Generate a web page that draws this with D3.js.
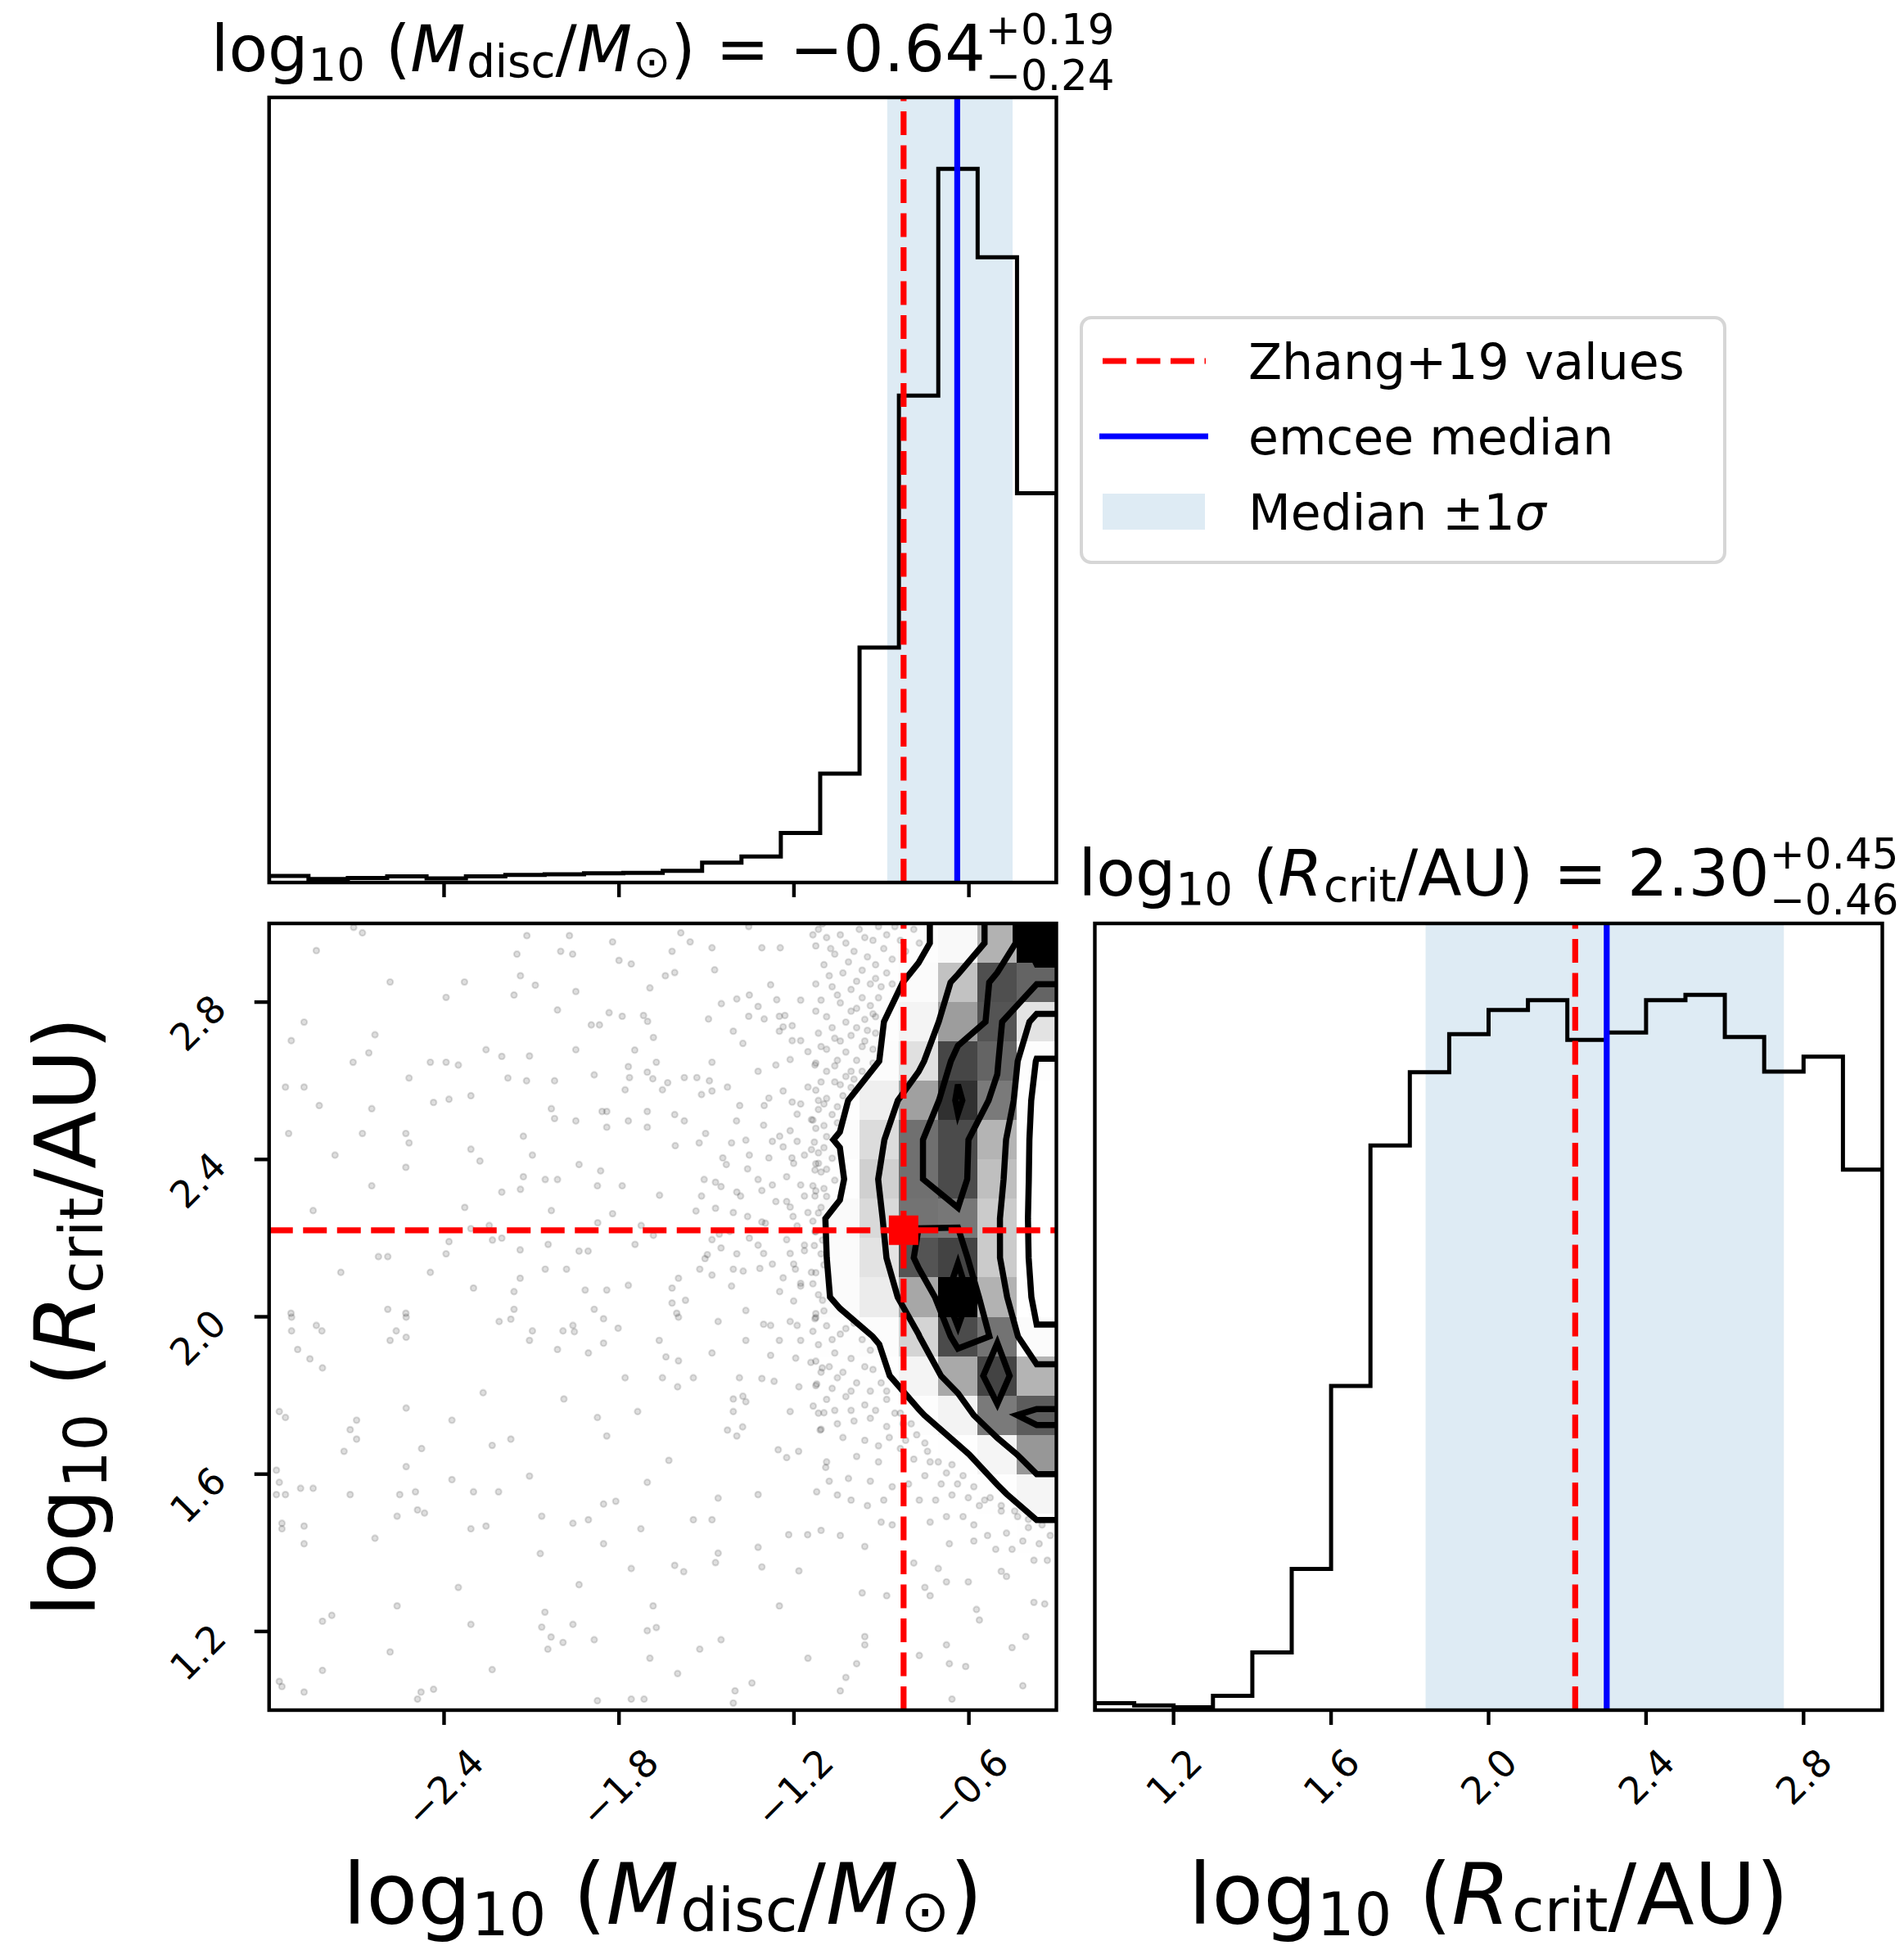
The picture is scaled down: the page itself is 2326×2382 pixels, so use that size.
<!DOCTYPE html>
<html><head><meta charset="utf-8">
<script src="https://cdn.jsdelivr.net/npm/d3@7"></script>
<style>
body{margin:0;background:#fff}
text{font-family:"DejaVu Sans",sans-serif;white-space:pre;fill:#000}
</style></head><body>
<svg id="c" width="2326" height="2382"></svg>
<script>
// ---------------- DATA ----------------
const mDomain = [-3.0, -0.3];          // log10(Mdisc/Msun) axis range
const rDomain = [1.0, 3.0];            // log10(Rcrit/AU) axis range
const mCounts = [13,7,9,12,8,12,15,16,18,19,23,39,51,97,213,460,953,1397,1224,762];
const rCounts = [12,8,5,25,100,245,562,979,1106,1172,1214,1231,1162,1175,1231,1240,1167,1107,1133,937];
const mTicks = [-2.4,-1.8,-1.2,-0.6];
const rTicks = [1.2,1.6,2.0,2.4,2.8];
const zhangValues = [-0.824, 2.22];        // [Mdisc, Rcrit]
const mSummary = [-0.64, 0.19, 0.24];      // median, +err, -err
const rSummary = [2.30, 0.45, 0.46];
const legendLabels = ["Zhang+19 values", "emcee median", "Median \u00b11"];
// 2D histogram (rows: Rcrit bins from 2.9-3.0 down to 1.0-1.1; cols: Mdisc bins left->right)
const density2d = [
 [0,0,1,0,0,0,0,1,0,1, 1,2,2, 3,5,7,8,15,55,100],
 [0,1,0,0,0,1,0,0,1,1, 1,2,2, 3,5,7,12,49,83,78],
 [1,0,0,0,1,0,1,0,1,1, 1,2,2, 4,6,8.5,21,62,82,33],
 [0,0,0,1,0,0,0,1,1,1, 1,2,3, 4,6,10,35,85,78,8.5],
 [0,1,0,0,0,1,0,1,0,1, 1,2,3, 3,6,25,61,90,72,0],
 [1,0,0,0,1,0,1,0,1,1, 1,2,3, 5,11,37,75,84,54,0],
 [0,0,1,0,0,0,0,1,1,1, 1,2,3, 3,6,43,75,84,50,0],
 [0,1,0,0,0,1,0,0,1,1, 1,2,3, 4,13.5,39,74,73,45,0],
 [1,0,0,1,0,0,1,1,0,1, 1,2,3, 4,13,33,82,86,45,1],
 [0,0,1,0,0,1,0,0,1,1, 1,2,3, 4,12,27,59,100,55,3],
 [0,1,0,0,1,0,0,1,0,1, 1,1,2, 3,5,11,41,84,74,13],
 [1,0,0,0,0,0,1,0,1,0, 1,1,2, 2,4,6,21,58,86,54],
 [0,0,0,1,0,1,0,0,1,1, 1,1,2, 2,3,4,8,22,72,80],
 [0,1,0,0,0,0,0,1,0,0, 1,1,1, 1,2,3,4,6,20,64],
 [0,0,1,0,0,0,1,0,0,1, 1,1,1, 1,1,2,3,4,7,20],
 [1,0,0,0,1,0,0,0,1,0, 1,1,1, 1,1,2,2,3,4,5],
 [0,0,0,0,0,1,0,0,0,0, 0,0,1, 1,1,1,2,2,3,3],
 [0,1,0,0,0,0,0,1,0,0, 0,0,0, 1,1,1,1,2,2,2],
 [0,0,0,1,0,0,0,0,0,0, 0,0,0, 0,1,1,1,1,1,2],
 [1,0,0,0,0,0,0,0,0,1, 0,0,0, 0,0,1,1,1,1,1]
];
const contourLevels = [0.10, 0.42, 0.76, 0.88];   // fraction of peak density
const samples = [
[-2.710,2.990],[-2.680,2.976],[-2.838,2.931],[-2.116,2.969],[-1.970,2.969],[-2.150,2.922],[-2.000,2.929],[-1.959,2.922],[-1.822,2.953],[-1.800,2.906],[-1.758,2.897],[-1.588,2.976],[-1.556,2.953],[-1.481,2.938],[-1.618,2.929],[-1.355,2.992],[-1.310,2.938],[-1.247,2.938],[-2.585,2.851],[-2.330,2.851],[-2.393,2.812],[-2.138,2.867],[-2.087,2.843],[-2.160,2.818],[-1.948,2.827],[-2.011,2.780],[-1.641,2.867],[-1.609,2.875],[-1.694,2.836],[-1.472,2.882],[-1.396,2.808],[-1.353,2.818],[-1.449,2.796],[-1.323,2.789],[-1.280,2.844],[-1.259,2.806],[-1.177,2.805],[-2.880,2.749],[-2.924,2.702],[-2.637,2.717],[-2.658,2.671],[-2.712,2.647],[-1.834,2.773],[-1.789,2.764],[-1.895,2.742],[-1.867,2.742],[-1.716,2.766],[-1.702,2.751],[-1.682,2.710],[-1.746,2.678],[-1.493,2.757],[-1.408,2.726],[-1.355,2.764],[-1.302,2.757],[-1.250,2.764],[-1.231,2.766],[-1.206,2.740],[-1.250,2.726],[-1.375,2.695],[-1.206,2.702],[-2.447,2.647],[-2.393,2.647],[-2.351,2.640],[-2.256,2.679],[-2.202,2.662],[-2.107,2.663],[-1.948,2.679],[-1.768,2.636],[-1.672,2.647],[-1.481,2.647],[-1.703,2.622],[-1.684,2.605],[-1.576,2.608],[-1.533,2.608],[-1.490,2.600],[-1.764,2.608],[-1.885,2.615],[-2.520,2.607],[-2.944,2.584],[-2.880,2.584],[-2.181,2.607],[-2.117,2.600],[-2.021,2.600],[-1.651,2.577],[-1.633,2.595],[-1.779,2.577],[-1.517,2.565],[-1.481,2.574],[-1.428,2.584],[-1.323,2.624],[-2.436,2.545],[-2.383,2.553],[-2.308,2.562],[-2.828,2.537],[-2.648,2.529],[-2.032,2.529],[-2.021,2.504],[-1.948,2.498],[-1.858,2.522],[-1.842,2.522],[-1.842,2.482],[-1.768,2.498],[-1.703,2.522],[-1.703,2.482],[-1.609,2.514],[-1.576,2.498],[-1.386,2.537],[-1.302,2.537],[-1.397,2.498],[-1.286,2.556],[-1.237,2.574],[-1.206,2.546],[-1.177,2.541],[-2.933,2.466],[-2.680,2.466],[-2.531,2.466],[-2.520,2.442],[-2.128,2.459],[-2.308,2.426],[-2.097,2.411],[-2.774,2.411],[-2.277,2.396],[-2.531,2.380],[-1.937,2.387],[-1.863,2.371],[-1.607,2.435],[-1.525,2.442],[-1.503,2.466],[-1.414,2.442],[-1.365,2.449],[-1.353,2.411],[-1.444,2.404],[-1.432,2.387],[-1.286,2.404],[-1.304,2.487],[-1.274,2.446],[-1.237,2.432],[-1.189,2.446],[-1.207,2.404],[-1.140,2.425],[-1.128,2.373],[-2.648,2.333],[-2.128,2.356],[-2.138,2.324],[-2.202,2.317],[-2.053,2.349],[-2.011,2.349],[-1.874,2.333],[-1.789,2.333],[-1.661,2.309],[-1.508,2.349],[-1.469,2.342],[-1.450,2.331],[-1.396,2.317],[-1.323,2.349],[-1.274,2.335],[-1.517,2.307],[-1.225,2.293],[-1.164,2.307],[-2.849,2.270],[-2.329,2.278],[-2.032,2.270],[-1.822,2.262],[-1.536,2.269],[-1.469,2.276],[-1.408,2.265],[-1.359,2.255],[-1.310,2.241],[-1.203,2.255],[-1.873,2.239],[-1.724,2.232],[-2.308,2.224],[-2.245,2.232],[-2.383,2.191],[-2.234,2.195],[-2.202,2.200],[-2.043,2.184],[-1.745,2.184],[-1.682,2.207],[-1.456,2.210],[-1.353,2.200],[-2.393,2.160],[-2.139,2.170],[-1.937,2.167],[-1.906,2.167],[-2.625,2.153],[-2.593,2.153],[-2.754,2.113],[-2.447,2.113],[-2.053,2.121],[-1.980,2.121],[-1.497,2.158],[-1.450,2.175],[-1.396,2.160],[-1.304,2.161],[-1.213,2.161],[-1.164,2.182],[-1.523,2.121],[-1.481,2.106],[-1.408,2.121],[-1.374,2.116],[-1.317,2.123],[-1.195,2.121],[-2.299,2.073],[-2.160,2.064],[-2.139,2.098],[-1.916,2.068],[-1.842,2.068],[-1.768,2.080],[-1.618,2.073],[-1.596,2.098],[-1.618,2.035],[-1.572,2.042],[-1.414,2.078],[-1.249,2.064],[-1.201,2.040],[-1.177,2.078],[-2.925,2.009],[-2.593,2.019],[-2.531,2.009],[-2.160,2.019],[-1.885,2.019],[-1.602,2.009],[-1.365,2.016],
[-2.923,1.999],[-2.530,1.999],[-2.923,1.964],[-2.838,1.978],[-2.819,1.964],[-2.564,1.964],[-2.585,1.940],[-2.530,1.948],[-2.902,1.917],[-2.860,1.893],[-2.817,1.870],[-2.211,1.988],[-2.171,1.994],[-2.107,1.940],[-2.097,1.964],[-1.992,1.964],[-1.958,1.978],[-1.953,1.962],[-1.853,1.995],[-1.803,1.971],[-1.853,1.933],[-2.011,1.917],[-1.905,1.908],[-1.662,1.940],[-1.596,1.999],[-1.460,1.988],[-1.365,1.940],[-1.304,1.981],[-1.280,1.978],[-1.250,1.940],[-1.213,1.988],[-1.189,1.978],[-1.177,1.940],[-1.128,1.995],[-1.639,1.898],[-1.596,1.888],[-1.481,1.908],[-1.280,1.902],[-1.194,1.895],[-1.142,1.884],[-1.103,1.870],[-1.779,1.845],[-1.651,1.845],[-1.545,1.845],[-1.599,1.822],[-1.387,1.845],[-1.310,1.843],[-1.268,1.836],[-1.183,1.822],[-1.122,1.829],[-2.266,1.807],[-1.989,1.791],[-2.530,1.768],[-2.965,1.759],[-2.944,1.744],[-2.700,1.737],[-2.722,1.713],[-2.700,1.689],[-2.743,1.658],[-2.373,1.737],[-1.874,1.744],[-1.736,1.759],[-1.408,1.791],[-1.375,1.798],[-1.408,1.759],[-1.365,1.784],[-1.213,1.759],[-1.134,1.773],[-1.097,1.756],[-1.428,1.712],[-1.376,1.720],[-1.396,1.697],[-1.110,1.712],[-1.842,1.697],[-2.171,1.689],[-2.235,1.673],[-2.477,1.665],[-1.629,1.635],[-1.254,1.662],[-1.225,1.642],[-1.184,1.658],[-2.975,1.610],[-2.965,1.579],[-2.975,1.548],[-2.944,1.548],[-2.892,1.564],[-2.849,1.564],[-2.722,1.548],[-2.552,1.548],[-2.498,1.555],[-2.530,1.619],[-2.373,1.586],[-2.299,1.555],[-2.213,1.555],[-2.107,1.595],[-1.703,1.579],[-1.460,1.539],[-1.323,1.548],[-1.122,1.555],[-1.091,1.617],[-2.491,1.509],[-2.467,1.501],[-2.561,1.493],[-2.956,1.475],[-2.880,1.468],[-2.956,1.461],[-2.880,1.423],[-2.637,1.437],[-2.308,1.461],[-2.256,1.468],[-2.065,1.493],[-1.958,1.475],[-1.905,1.484],[-1.853,1.524],[-1.811,1.531],[-1.725,1.461],[-1.545,1.484],[-1.481,1.484],[-1.853,1.423],[-1.323,1.414],[-1.218,1.446],[-1.153,1.446],[-2.070,1.398],[-1.758,1.360],[-1.609,1.368],[-1.578,1.352],[-1.460,1.399],[-1.469,1.375],[-1.310,1.364],[-1.183,1.354],[-2.351,1.312],[-1.937,1.319],[-2.561,1.265],[-2.817,1.226],[-2.785,1.241],[-2.308,1.218],[-2.054,1.249],[-2.065,1.211],[-2.033,1.186],[-1.992,1.172],[-1.958,1.218],[-1.885,1.179],[-1.683,1.265],[-1.703,1.202],[-1.672,1.210],[-1.450,1.179],[-1.523,1.155],[-1.250,1.265],[-1.152,1.132],[-2.044,1.155],[-2.585,1.148],[-1.694,1.132],[-2.817,1.101],[-2.235,1.103],[-1.599,1.093],[-1.344,1.069],[-1.402,1.049],[-2.965,1.073],[-2.956,1.060],[-2.880,1.046],[-2.479,1.046],[-2.491,1.028],[-2.436,1.053],[-1.874,1.024],[-1.758,1.028],[-1.714,1.028],[-1.408,1.018],
[-1.116,2.985],[-1.088,2.964],[-1.041,2.971],[-0.976,2.985],[-0.929,2.957],[-0.882,2.971],[-0.835,2.957],[-0.789,2.985],[-1.125,2.943],[-1.060,2.922],[-0.994,2.929],[-0.948,2.915],[-0.892,2.936],[-0.863,2.909],[-1.097,2.895],[-1.032,2.874],[-0.966,2.881],[-0.920,2.895],[-0.882,2.874],[-1.125,2.846],[-1.069,2.839],[-1.004,2.832],[-0.938,2.846],[-0.901,2.839],[-1.107,2.805],[-1.041,2.798],[-0.985,2.784],[-0.938,2.791],[-1.088,2.763],[-1.022,2.749],[-0.957,2.756],[-0.920,2.763],[-1.116,2.721],[-1.060,2.708],[-1.004,2.715],[-0.948,2.728],[-1.088,2.680],[-1.022,2.673],[-0.966,2.687],[-0.929,2.680],[-1.125,2.645],[-1.060,2.638],[-1.004,2.624],[-1.107,2.597],[-1.041,2.590],[-0.994,2.604],[-1.088,2.555],[-1.032,2.562],[-1.116,2.527],[-1.069,2.514],[-1.125,2.479],[-1.088,2.458],[-1.116,2.417],[-1.069,2.403],[-1.107,2.368],[-1.060,2.347],[-1.125,2.320],[-1.088,2.306],[-1.116,2.264],[-1.125,2.216],[-1.107,2.160],[-1.125,2.112],[-1.116,2.056],[-1.097,2.015],
[-1.125,1.998],[-1.088,1.977],[-1.041,1.956],[-0.994,1.984],[-1.116,1.929],[-1.060,1.908],[-1.004,1.894],[-0.938,1.915],[-1.107,1.859],[-1.051,1.845],[-0.985,1.832],[-0.929,1.866],[-0.882,1.811],[-1.088,1.790],[-1.022,1.797],[-0.957,1.776],[-0.882,1.790],[-0.854,1.755],[-1.107,1.714],[-1.051,1.728],[-0.994,1.735],[-0.938,1.742],[-0.882,1.721],[-0.826,1.728],[-0.779,1.700],[-1.032,1.693],[-0.957,1.686],[-0.910,1.672],[-0.835,1.665],[-0.789,1.638],[-0.742,1.658],[-0.705,1.631],[-0.658,1.624],[-0.985,1.645],[-0.910,1.631],[-1.088,1.631],[-1.079,1.582],[-1.013,1.589],[-0.938,1.582],[-0.863,1.568],[-0.807,1.575],[-0.751,1.596],[-0.695,1.575],[-0.639,1.575],[-0.602,1.540],[-0.564,1.520],[-0.527,1.540],[-0.489,1.506],[-0.433,1.492],[-0.396,1.464],[-0.349,1.471],[-0.321,1.444],[-0.658,1.547],[-0.714,1.534],[-0.770,1.534],[-0.892,1.534],[-0.948,1.520],[-1.004,1.534],[-1.051,1.547],[-0.583,1.471],[-0.620,1.492],[-0.677,1.492],[-0.733,1.478],[-0.863,1.471],[-0.901,1.478],[-0.536,1.444],[-0.471,1.450],[-0.415,1.430],[-0.359,1.423],[-0.331,1.381],[-0.508,1.409],[-0.452,1.409],[-0.583,1.430],[-0.667,1.423],[-0.957,1.416],[-1.041,1.444],[-1.107,1.457],[-0.789,1.374],[-0.705,1.360],[-0.677,1.326],[-0.602,1.326],[-0.489,1.353],[-0.471,1.340],[-0.377,1.381],[-0.340,1.270],[-0.966,1.298],[-0.882,1.291],[-0.751,1.312],[-0.733,1.291],[-0.574,1.256],[-0.564,1.229],[-0.377,1.274],[-0.957,1.187],[-0.957,1.166],[-0.677,1.166],[-0.452,1.159],[-0.405,1.187],[-0.770,1.139],[-0.667,1.118],[-0.611,1.111],[-0.985,1.118],[-1.022,1.083],[-1.041,1.049],[-0.415,1.062],[-0.658,1.028],
[-1.237,2.737],[-1.177,2.702],[-1.152,2.674],[-1.128,2.640],[-1.213,2.654],[-1.262,2.640],[-1.152,2.584],[-1.116,2.550],[-1.189,2.515],[-1.140,2.501],[-1.213,2.473],[-1.249,2.459],[-1.164,2.411],[-1.201,2.390],[-1.116,2.390],[-1.225,2.356],[-1.177,2.335],[-1.128,2.307],[-1.213,2.279],[-1.152,2.265],[-1.189,2.231],[-1.128,2.217],[-1.225,2.196],[-1.164,2.168],[-1.201,2.134],[-1.140,2.113],[-1.177,2.085],[-1.237,2.099],[-1.274,2.134],[-1.323,2.182],[-1.298,2.238],[-1.262,2.293],[-1.310,2.321],[-1.359,2.376],[-1.383,2.307],[-1.420,2.217],[-1.481,2.196],[-1.505,2.148],
[-1.135,2.971],[-1.102,2.999],[-1.074,2.936],[-1.022,2.950],[-0.957,2.964],[-0.910,2.992],[-0.854,2.992],[-0.817,2.929],[-0.770,2.950],[-1.013,2.902],[-1.079,2.867],[-0.985,2.853],[-0.920,2.860],[-0.863,2.846],[-1.051,2.818],[-0.966,2.811],[-0.910,2.811],[-1.125,2.777],[-1.004,2.777],[-0.929,2.770],[-1.069,2.735],[-0.985,2.735],[-0.920,2.721],[-1.041,2.701],[-0.957,2.701],[-1.107,2.687],[-1.051,2.652],[-0.985,2.652],[-0.929,2.645],[-1.088,2.624],[-1.022,2.611],[-0.966,2.624],[-1.125,2.576],[-1.060,2.597],[-1.004,2.583],[-1.097,2.541],[-1.051,2.534],[-1.135,2.500],[-1.097,2.486],[-1.051,2.493],[-1.130,2.444],[-1.097,2.430],[-1.125,2.389],[-1.088,2.375],[-1.135,2.333],[-1.097,2.326],[-1.107,2.278],[-1.135,2.243],[-1.102,2.195],[-1.130,2.181],[-1.097,2.132],[-1.135,2.084],[-1.102,2.042],[-1.125,2.008],
[-1.135,1.963],[-1.069,1.942],[-1.022,1.970],[-0.966,1.942],[-1.125,1.887],[-1.079,1.873],[-1.032,1.859],[-0.957,1.873],[-0.901,1.832],[-1.125,1.825],[-1.069,1.818],[-1.004,1.811],[-0.938,1.811],[-1.116,1.755],[-1.060,1.762],[-1.004,1.762],[-0.920,1.762],[-0.835,1.755],[-0.798,1.728],[-0.873,1.693],[-0.817,1.686],[-0.751,1.679],[-0.733,1.631],[-0.677,1.603],[-0.620,1.596],[-0.583,1.568],[-0.546,1.534],[-0.489,1.520],[-0.443,1.506],[-0.396,1.485]
];

// ---------------- LAYOUT ----------------
const X0L = 328.75, X1L = 1290.5, X0R = 1337.5, X1R = 2299.5;
const Y0T = 119, Y1T = 1078, Y0B = 1128, Y1B = 2089;
const FT = 46, FL = 103, FTI = 78, FLG = 60;
const SPINE = 4.4, TICKLEN = 18;
const RED = "#ff0000", BLUE = "#0000ff", BAND = "#1f77b4";

const svg = d3.select("#c");
svg.append("rect").attr("width", 2326).attr("height", 2382).attr("fill", "#fff");
const defs = svg.append("defs");
function clip(id, x0, y0, x1, y1) {
  defs.append("clipPath").attr("id", id).append("rect")
    .attr("x", x0).attr("y", y0).attr("width", x1 - x0).attr("height", y1 - y0);
  return `url(#${id})`;
}

const xM = d3.scaleLinear().domain(mDomain).range([X0L, X1L]);
const xR = d3.scaleLinear().domain(rDomain).range([X0R, X1R]);
const yR2 = d3.scaleLinear().domain(rDomain).range([Y1B, Y0B]);
const yTop = d3.scaleLinear().domain([0, 1.1 * d3.max(mCounts)]).range([Y1T, Y0T]);
const yRH = d3.scaleLinear().domain([0, 1.1 * d3.max(rCounts)]).range([Y1B, Y0B]);
const fmt1 = d3.format(".1f"), fmt2 = d3.format(".2f");

// ---------- helpers ----------
function mathLabel(parent, parts, F, x, y, rot) {
  const g = parent.append("g").attr("transform", `translate(${x},${y}) rotate(${rot || 0})`);
  const inner = g.append("g");
  let cx = 0;
  for (const p of parts) {
    if (p.stack) {
      const fs = 0.66 * F;
      const a = inner.append("text").attr("x", cx).attr("y", -0.42 * F).attr("font-size", fs).text(p.stack[0]);
      const b = inner.append("text").attr("x", cx).attr("y", 0.30 * F).attr("font-size", fs).text(p.stack[1]);
      cx += Math.max(a.node().getComputedTextLength(), b.node().getComputedTextLength());
    } else {
      const fs = p.sub !== undefined ? 0.7 * F : F;
      const t = inner.append("text").attr("x", cx).attr("y", p.sub !== undefined ? p.sub * F : 0)
        .attr("font-size", fs).attr("font-style", p.it ? "italic" : "normal").text(p.t);
      cx += t.node().getComputedTextLength() + (p.kern || 0) * F;
    }
  }
  inner.attr("transform", `translate(${-cx / 2},0)`);
  return g;
}
function tickLabel(g, str, placeFn) {
  const grp = g.append("g");
  const t = grp.append("text").attr("text-anchor", "middle").attr("font-size", FT)
    .attr("y", 0.365 * FT).attr("transform", "rotate(-45)").text(str);
  const L = t.node().getComputedTextLength();
  const e = (L / 2 + 0.365 * FT) / Math.SQRT2;
  const [cx, cy] = placeFn(e);
  grp.attr("transform", `translate(${cx},${cy})`);
}
function bottomTicks(g, scale, ticks, yb, labels) {
  ticks.forEach(v => {
    const x = scale(v);
    g.append("line").attr("x1", x).attr("x2", x).attr("y1", yb).attr("y2", yb + TICKLEN)
      .attr("stroke", "#000").attr("stroke-width", SPINE);
    if (labels) tickLabel(g, fmt1(v), e => [x, yb + 43 + e]);
  });
}
function frame(g, x0, y0, x1, y1) {
  g.append("rect").attr("x", x0).attr("y", y0).attr("width", x1 - x0).attr("height", y1 - y0)
    .attr("fill", "none").attr("stroke", "#000").attr("stroke-width", SPINE);
}
function stepHist(g, counts, domain, xs, ys, cp) {
  const w = (domain[1] - domain[0]) / counts.length;
  const pts = [[domain[0], 0]];
  counts.forEach((c, i) => pts.push([domain[0] + i * w, c]));
  pts.push([domain[1], counts[counts.length - 1]]);
  pts.push([domain[1], 0]);
  const line = d3.line().x(d => xs(d[0])).y(d => ys(d[1])).curve(d3.curveStepAfter);
  g.append("path").attr("d", line(pts)).attr("fill", "none").attr("stroke", "#000")
    .attr("stroke-width", 5).attr("clip-path", cp);
}
function vline(g, x, y0, y1, color, dashed, cp) {
  g.append("line").attr("x1", x).attr("x2", x).attr("y1", y1).attr("y2", y0)
    .attr("stroke", color).attr("stroke-width", 7.2)
    .attr("stroke-dasharray", dashed ? "29,12.5" : null).attr("clip-path", cp);
}
const mLabelParts = [{t:"log"},{t:"10",sub:0.14},{t:" ("},{t:"M",it:1,kern:0.02},{t:"disc",sub:0.09},{t:"/"},{t:"M",it:1,kern:0.02},{t:"\u2299",sub:0.09},{t:")"}];
const rLabelParts = [{t:"log"},{t:"10",sub:0.14},{t:" ("},{t:"R",it:1,kern:0.02},{t:"crit",sub:0.09},{t:"/AU)"}];
function summaryParts(base, s) {
  return base.concat([{t: " = " + fmt2(s[0])}, {stack: ["+" + fmt2(s[1]), "\u2212" + fmt2(s[2])]}]);
}

// ---------- top-left: Mdisc histogram ----------
const gT = svg.append("g");
const cpT = clip("cpT", X0L, Y0T, X1L, Y1T);
gT.append("rect").attr("x", xM(mSummary[0] - mSummary[2])).attr("y", Y0T)
  .attr("width", xM(mSummary[0] + mSummary[1]) - xM(mSummary[0] - mSummary[2]))
  .attr("height", Y1T - Y0T).attr("fill", BAND).attr("fill-opacity", 0.15);
stepHist(gT, mCounts, mDomain, xM, yTop, cpT);
vline(gT, xM(zhangValues[0]), Y0T, Y1T, RED, true, cpT);
vline(gT, xM(mSummary[0]), Y0T, Y1T, BLUE, false, cpT);
frame(gT, X0L, Y0T, X1L, Y1T);
bottomTicks(gT, xM, mTicks, Y1T, false);
mathLabel(svg, summaryParts(mLabelParts, mSummary), FTI, (X0L + X1L) / 2, 87);

// ---------- bottom-right: Rcrit histogram ----------
const gR = svg.append("g");
const cpR = clip("cpR", X0R, Y0B, X1R, Y1B);
gR.append("rect").attr("x", xR(rSummary[0] - rSummary[2])).attr("y", Y0B)
  .attr("width", xR(rSummary[0] + rSummary[1]) - xR(rSummary[0] - rSummary[2]))
  .attr("height", Y1B - Y0B).attr("fill", BAND).attr("fill-opacity", 0.15);
stepHist(gR, rCounts, rDomain, xR, yRH, cpR);
vline(gR, xR(zhangValues[1]), Y0B, Y1B, RED, true, cpR);
vline(gR, xR(rSummary[0]), Y0B, Y1B, BLUE, false, cpR);
frame(gR, X0R, Y0B, X1R, Y1B);
bottomTicks(gR, xR, rTicks, Y1B, true);
mathLabel(svg, summaryParts(rLabelParts, rSummary), FTI, (X0R + X1R) / 2, 1094);
mathLabel(svg, rLabelParts, FL, (X0R + X1R) / 2, 2350);

// ---------- bottom-left: 2D panel ----------
const g2 = svg.append("g");
const cp2 = clip("cp2", X0L, Y0B, X1L, Y1B);
const body = g2.append("g").attr("clip-path", cp2);
// samples
body.append("g").selectAll("circle").data(samples).join("circle")
  .attr("cx", d => xM(d[0])).attr("cy", d => yR2(d[1])).attr("r", 3.6)
  .attr("fill", "#000").attr("fill-opacity", 0.13)
  .attr("stroke", "#000").attr("stroke-opacity", 0.13).attr("stroke-width", 2.2);
// padded grid for contours
const NX = 20, NY = 20, P = 2, W2 = NX + 2 * P, H2n = NY + 2 * P;
const hmax = d3.max(density2d.flat());
const grid = new Array(W2 * H2n).fill(d3.min(density2d.flat()) / hmax);
for (let j = 1; j < H2n - 1; j++) for (let i = 1; i < W2 - 1; i++) {
  const ii = Math.max(0, Math.min(NX - 1, i - P)), jj = Math.max(0, Math.min(NY - 1, j - P));
  grid[j * W2 + i] = density2d[jj][ii] / hmax;
}
const mBinW = (mDomain[1] - mDomain[0]) / NX, rBinW = (rDomain[1] - rDomain[0]) / NY;
const gridProj = d3.geoTransform({ point(x, y) {
  this.stream.point(xM(mDomain[0] + (x - P) * mBinW), yR2(rDomain[1] - (y - P) * rBinW));
}});
const gpath = d3.geoPath(gridProj);
const conts = d3.contours().size([W2, H2n]).thresholds(contourLevels)(grid);
// white fill inside outermost contour
body.append("path").attr("d", gpath(conts[0])).attr("fill", "#fff").attr("fill-rule", "evenodd");
// density cells
const cells = [];
density2d.forEach((row, j) => row.forEach((v, i) => { if (v > 0) cells.push({i, j, h: v / hmax}); }));
body.append("g").selectAll("rect").data(cells).join("rect")
  .attr("x", d => xM(mDomain[0] + d.i * mBinW))
  .attr("width", d => xM(mDomain[0] + (d.i + 1) * mBinW) - xM(mDomain[0] + d.i * mBinW))
  .attr("y", d => yR2(rDomain[1] - d.j * rBinW))
  .attr("height", d => yR2(rDomain[1] - (d.j + 1) * rBinW) - yR2(rDomain[1] - d.j * rBinW))
  .attr("fill", d => { const v = Math.round(255 * (1 - d.h)); return `rgb(${v},${v},${v})`; })
  .attr("fill-opacity", d => d.h).attr("shape-rendering", "crispEdges");
// contour lines
body.append("g").selectAll("path").data(conts).join("path")
  .attr("d", d => gpath(d)).attr("fill", "none").attr("stroke", "#000")
  .attr("stroke-width", 7.5).attr("stroke-linejoin", "miter");
// Zhang truth lines + marker
body.append("line").attr("x1", xM(zhangValues[0])).attr("x2", xM(zhangValues[0]))
  .attr("y1", Y1B).attr("y2", Y0B).attr("stroke", RED).attr("stroke-width", 7.2).attr("stroke-dasharray", "29,12.5");
body.append("line").attr("y1", yR2(zhangValues[1])).attr("y2", yR2(zhangValues[1]))
  .attr("x1", X0L).attr("x2", X1L).attr("stroke", RED).attr("stroke-width", 7.2).attr("stroke-dasharray", "29,12.5");
body.append("path").attr("d", d3.symbol(d3.symbolSquare, 36 * 36)())
  .attr("transform", `translate(${xM(zhangValues[0])},${yR2(zhangValues[1])})`).attr("fill", RED);
frame(g2, X0L, Y0B, X1L, Y1B);
bottomTicks(g2, xM, mTicks, Y1B, true);
rTicks.forEach(v => {
  const y = yR2(v);
  g2.append("line").attr("x1", X0L - TICKLEN).attr("x2", X0L).attr("y1", y).attr("y2", y)
    .attr("stroke", "#000").attr("stroke-width", SPINE);
  tickLabel(g2, fmt1(v), e => [279 - e, y + 25]);
});
mathLabel(svg, mLabelParts, FL, (X0L + X1L) / 2, 2350);
mathLabel(svg, rLabelParts, FL, 116, (Y0B + Y1B) / 2, -90);

// ---------- legend ----------
const lg = svg.append("g");
lg.append("rect").attr("x", 1321).attr("y", 388).attr("width", 786).attr("height", 299).attr("rx", 12)
  .attr("fill", "#fff").attr("fill-opacity", 0.8).attr("stroke", "#cccccc").attr("stroke-opacity", 0.8).attr("stroke-width", 4);
const legY = [441, 533, 625];
lg.append("line").attr("x1", 1347).attr("x2", 1473).attr("y1", legY[0]).attr("y2", legY[0])
  .attr("stroke", RED).attr("stroke-width", 7.2).attr("stroke-dasharray", "29,12.5");
lg.append("line").attr("x1", 1343).attr("x2", 1476).attr("y1", legY[1]).attr("y2", legY[1])
  .attr("stroke", BLUE).attr("stroke-width", 7.2);
lg.append("rect").attr("x", 1347).attr("y", legY[2] - 22).attr("width", 125).attr("height", 44)
  .attr("fill", BAND).attr("fill-opacity", 0.15);
legendLabels.forEach((s, k) => {
  const t = lg.append("text").attr("x", 1525).attr("y", legY[k] + 22).attr("font-size", FLG).text(s);
  if (k === 2) t.append("tspan").attr("font-style", "italic").text("\u03c3");
});
</script></body></html>
